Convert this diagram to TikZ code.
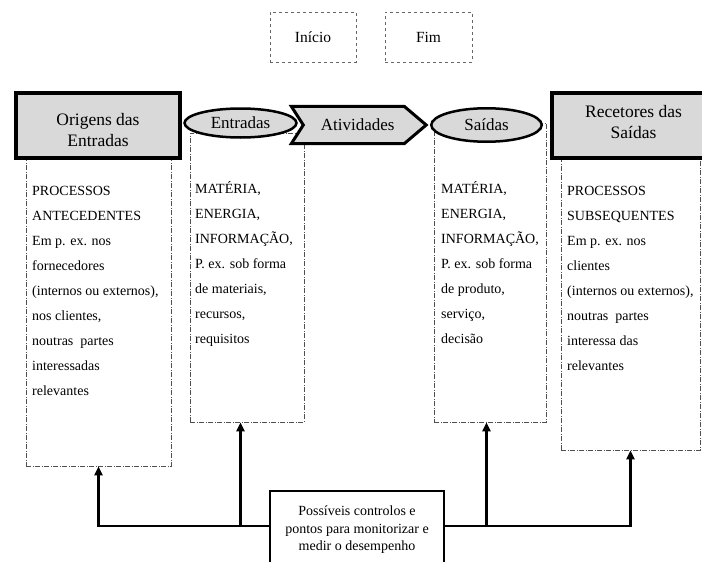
\documentclass[tikz,border=0pt]{standalone}
\usepackage{fontspec}
\setmainfont{Liberation Serif}
\usetikzlibrary{shapes.geometric,arrows.meta}
\definecolor{headgray}{HTML}{D9D9D9}
\definecolor{dashgray}{HTML}{505050}
\begin{document}
\begin{tikzpicture}[x=1pt,y=-1pt,
  dashbox/.style={draw=dashgray, line width=0.7pt, dash pattern=on 5pt off 1.5pt on 1pt off 1.5pt, inner sep=0pt},
  startbox/.style={draw=black!60, dashed, line width=0.9pt, minimum width=86pt, minimum height=50pt, font=\fontsize{15.5}{17}\selectfont},
  headbox/.style={draw=black, line width=4pt, fill=headgray, align=center, font=\fontsize{17.5}{21}\selectfont},
  headlbl/.style={align=center, inner sep=0pt, font=\fontsize{17.5}{21}\selectfont},
  oval/.style={ellipse, draw=black, line width=2.5pt, fill=headgray, inner sep=0pt, font=\fontsize{17}{20}\selectfont},
  chev/.style={draw=black, line width=3pt, fill=headgray, line join=miter},
  bodytext/.style={anchor=north west, align=left, inner sep=0pt, font=\fontsize{14}{25}\selectfont},
  ctrlbox/.style={draw=black, line width=1.5pt, fill=white, align=center, font=\fontsize{14}{17.5}\selectfont},
  conn/.style={line width=2.6pt, -{Triangle[length=9pt,width=8pt]}}
]
\useasboundingbox (0,0) rectangle (702,562);

% top start/end boxes
\node[startbox] (inicio) at (313,37) {Início};
\node[startbox, minimum width=87pt] (fim) at (428.5,37) {Fim};

% dashed content boxes
\node[dashbox, minimum width=145pt, minimum height=316pt] (lbox) at (98.5,308) {};
\node[dashbox, minimum width=114pt, minimum height=289pt] (ebox) at (247,277.5) {};
\node[dashbox, minimum width=112pt, minimum height=299pt] (sbox) at (490,272.5) {};
\node[dashbox, minimum width=139pt, minimum height=300pt] (rbox) at (630.5,300) {};

% header boxes
\node[headbox, minimum width=164pt, minimum height=65pt] (orig) at (98,125.5) {};
\node[headlbl] (origlbl) at ([yshift=-5pt]orig.center) {Origens das\\Entradas};
\node[headbox, minimum width=163pt, minimum height=65pt] (rec) at (633.5,125.5) {};
\node[headlbl] (reclbl) at ([yshift=3pt]rec.center) {Recetores das\\Saídas};

% chevron
\node[inner sep=0pt, minimum width=134.5pt, minimum height=37pt] (ativ) at (358.75,125) {};
\filldraw[chev] (ativ.north west) -- ([xshift=-22pt]ativ.north east) -- (ativ.east)
  -- ([xshift=-22pt]ativ.south east) -- (ativ.south west) -- ([xshift=12pt]ativ.west) -- cycle;
\node[font=\fontsize{17}{20}\selectfont] (ativlbl) at ([xshift=-1pt]ativ.center) {Atividades};

% ovals
\node[oval, minimum width=112pt, minimum height=29pt] (entEl) at (240.5,123) {\raisebox{-1pt}{Entradas}};
\node[oval, minimum width=110.5pt, minimum height=33.5pt] (saiEl) at (486.5,125) {\raisebox{-1pt}{Saídas}};

% texts
\node[bodytext] (ltext) at (32,182) {\rule{0pt}{13pt}PROCESSOS\\ANTECEDENTES\\Em p. ex. nos\\fornecedores\\(internos ou externos),\\nos clientes,\\noutras\ \ partes\\interessadas\\relevantes};
\node[bodytext] (etext) at (195,180) {\rule{0pt}{13pt}MATÉRIA,\\ENERGIA,\\INFORMAÇÃO,\\P. ex. sob forma\\de materiais,\\recursos,\\requisitos};
\node[bodytext] (stext) at (441,180) {\rule{0pt}{13pt}MATÉRIA,\\ENERGIA,\\INFORMAÇÃO,\\P. ex. sob forma\\de produto,\\serviço,\\decisão};
\node[bodytext] (rtext) at (567,182) {\rule{0pt}{13pt}PROCESSOS\\SUBSEQUENTES\\Em p. ex. nos\\clientes\\(internos ou externos),\\noutras\ \ partes\\interessa das\\relevantes};

% control connectors
\coordinate (hl) at (0,526);
\draw[conn] (357,526) -| (lbox.south);
\draw[conn] (357,526) -| (rbox.south);
\draw[conn] (entEl |- hl) -- (entEl |- ebox.south);
\draw[conn] (saiEl |- hl) -- (saiEl |- sbox.south);

% control box
\node[ctrlbox, minimum width=174pt, minimum height=78pt] (ctrl) at (357,530) {Possíveis controlos e\\pontos para monitorizar e\\medir o desempenho};
\end{tikzpicture}
\end{document}
